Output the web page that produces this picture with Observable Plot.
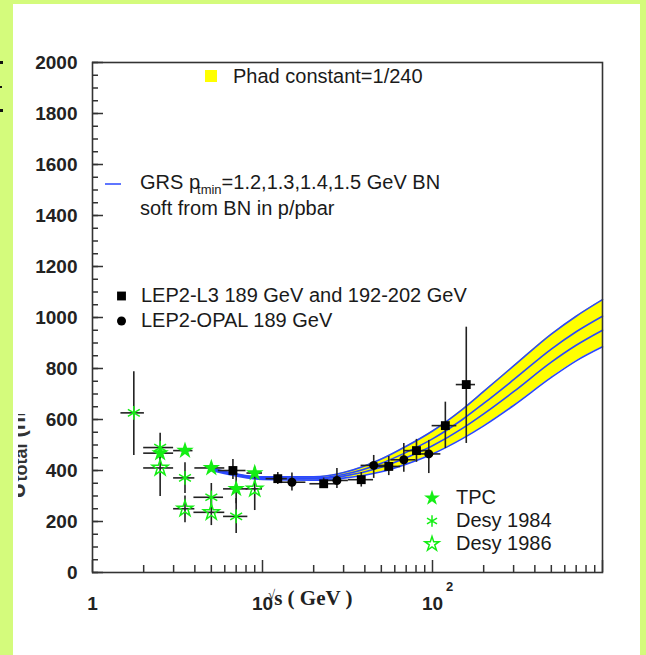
<!DOCTYPE html>
<html><head><meta charset="utf-8">
<script src="https://cdn.jsdelivr.net/npm/d3@7"></script>
<script src="https://cdn.jsdelivr.net/npm/@observablehq/plot@0.6"></script>
<style>
html,body{margin:0;padding:0;background:#d4fb7c;width:646px;height:655px;overflow:hidden;}
#card{position:absolute;left:13px;top:4px;width:627px;height:651px;background:#fff;}
#chart{position:absolute;left:0;top:0;}
.bul{position:absolute;left:0;width:3px;height:3px;background:#111;}
</style></head><body>
<div id="card"></div>
<div class="bul" style="top:61px"></div>
<div class="bul" style="top:86px;height:2px;width:2px"></div>
<div class="bul" style="top:109px"></div>
<div id="chart"></div>
<script>
// ---- model band (GRS, 4 pt_min values) ----
const curveX      = [5, 10, 20, 30, 50, 70, 100, 150, 200, 300, 500, 700, 1000];
const curveTop    = [410, 375, 375, 392, 445, 495, 555, 640, 710, 810, 935, 1005, 1070];
const curve2      = [407, 372, 370, 384, 428, 471, 524, 600, 663, 756, 876, 944, 1005];
const curve3      = [404, 369, 367, 378, 413, 450, 497, 565, 622, 709, 825, 891, 950];
const curveBottom = [400, 365, 362, 370, 395, 425, 465, 525, 575, 655, 765, 830, 885];

// ---- TPC (filled star) ----
const tpcX   = [2.5, 3.5, 5.0, 7.0, 9.0];
const tpcY   = [468, 478, 410, 328, 390];
const tpcYlo = [null, null, null, 270, null];
const tpcYhi = [null, null, null, 390, null];
const tpcXlo = [2.0, 3.0, 4.0, 5.9, 8.1];
const tpcXhi = [3.0, 3.9, 6.0, 8.2, 10];

// ---- Desy 1984 (asterisk) ----
const d84X   = [1.75, 2.5, 3.5, 5.0, 7.0];
const d84Y   = [626, 490, 371, 295, 220];
const d84Ylo = [459, 440, 310, 245, 153];
const d84Yhi = [787, 546, 430, 349, 290];
const d84Xlo = [1.47, 2.0, 3.0, 3.95, 5.9];
const d84Xhi = [2.02, 3.0, 4.0, 5.9, 8.2];

// ---- Desy 1986 (open star) ----
const d86X   = [2.5, 3.5, 5.0, 9.0];
const d86Y   = [410, 250, 236, 328];
const d86Ylo = [298, 195, 184, 243];
const d86Yhi = [470, 300, 290, 413];
const d86Xlo = [2.0, 3.0, 3.95, 8.0];
const d86Xhi = [3.0, 4.0, 6.0, 10];

// ---- LEP2-L3 (square) ----
const l3X   = [6.7, 12.3, 22.9, 38.1, 55.3, 80.5, 119, 158];
const l3Y   = [400, 368, 348, 364, 416, 478, 576, 737];
const l3Ylo = [365, 345, 330, 335, 380, 432, 486, 506];
const l3Yhi = [443, 392, 370, 392, 455, 522, 668, 962];
const l3Xlo = [5.5, 10.5, 19, 32, 47, 68, 99.5, 138];
const l3Xhi = [8, 14, 27, 45, 65, 95, 139, 179];

// ---- LEP2-OPAL (circle) ----
const opX   = [14.9, 27.4, 45.1, 67.8, 95.1];
const opY   = [354, 361, 420, 442, 465];
const opYlo = [320, 329, 369, 393, 388];
const opYhi = [390, 408, 459, 506, 518];
const opXlo = [12.5, 23, 38, 57, 80];
const opXhi = [18, 32, 53, 80, 112];

// ---- ticks ----
const yMajor = [0, 200, 400, 600, 800, 1000, 1200, 1400, 1600, 1800, 2000];
const yMinor = d3.range(0, 2001, 50);
const xMajor = [1, 10, 100, 1000];
const xLabeled = [1, 10, 100];
const xMinor = [2,3,4,5,6,7,8,9,20,30,40,50,60,70,80,90,200,300,400,500,600,700,800,900];

function pts(xs, ys, ylo, yhi, xlo, xhi) {
  return xs.map((x, i) => ({x, y: ys[i], ylo: ylo[i], yhi: yhi[i], xlo: xlo[i], xhi: xhi[i]}));
}
const tpc = pts(tpcX, tpcY, tpcYlo, tpcYhi, tpcXlo, tpcXhi);
const d84 = pts(d84X, d84Y, d84Ylo, d84Yhi, d84Xlo, d84Xhi);
const d86 = pts(d86X, d86Y, d86Ylo, d86Yhi, d86Xlo, d86Xhi);
const l3  = pts(l3X, l3Y, l3Ylo, l3Yhi, l3Xlo, l3Xhi);
const opal = pts(opX, opY, opYlo, opYhi, opXlo, opXhi);
const allPts = [...tpc, ...d84, ...d86, ...l3, ...opal];

const band = curveX.map((x, i) => ({x, lo: curveBottom[i], hi: curveTop[i]}));
const lines = [curveTop, curve2, curve3, curveBottom].flatMap((c, k) => curveX.map((x, i) => ({x, y: c[i], k})));

const GREEN = "#14ee14";
const BLUE = "#2a48ff";
const FONT = "'Liberation Sans', Arial, sans-serif";

const chart = Plot.plot({
  width: 646, height: 655,
  marginLeft: 92, marginRight: 44, marginTop: 62, marginBottom: 83,
  style: {background: "transparent", fontFamily: FONT, overflow: "visible"},
  x: {type: "log", domain: [1, 1000]},
  y: {domain: [0, 2000]},
  marks: [
    Plot.areaY(band, {x: "x", y1: "lo", y2: "hi", fill: "#ffff00", curve: "monotone-x"}),
    Plot.line(lines, {x: "x", y: "y", z: "k", stroke: BLUE, strokeWidth: 1.6, curve: "monotone-x"}),
    Plot.ruleX(allPts, {x: "x", y1: "ylo", y2: "yhi", stroke: "#222", strokeWidth: 1.6}),
    Plot.ruleY(allPts, {y: "y", x1: "xlo", x2: "xhi", stroke: "#222", strokeWidth: 1.6}),
    Plot.dot(l3, {x: "x", y: "y", symbol: "square", r: 5, fill: "#000"}),
    Plot.dot(opal, {x: "x", y: "y", symbol: "circle", r: 4.5, fill: "#000"}),
    Plot.dot(d86, {x: "x", y: "y", symbol: "star", r: 5, stroke: GREEN, strokeWidth: 1.5, fill: "none"}),
    Plot.dot(d84, {x: "x", y: "y", symbol: "asterisk", r: 6.5, stroke: GREEN, strokeWidth: 1.5}),
    Plot.dot(tpc, {x: "x", y: "y", symbol: "star", r: 5.5, fill: GREEN}),
    Plot.frame({stroke: "#333", strokeWidth: 1.6}),
    Plot.axisY(yMajor, {tickSize: 0, tickPadding: 15, tickFormat: d => String(d), fontSize: 19, fontWeight: "bold", fill: "#222", label: null}),
    Plot.axisY(yMajor, {tickSize: -11, tickFormat: () => "", label: null, stroke: "#333", strokeWidth: 1.5}),
    Plot.axisY(yMinor, {tickSize: -6, tickFormat: () => "", label: null, stroke: "#333", strokeWidth: 1.5}),
    Plot.axisX(xLabeled, {tickSize: 0, tickPadding: 24, tickFormat: d => d === 1 ? "1" : "10", fontSize: 19, fontWeight: "bold", fill: "#222", label: null}),
    Plot.axisX(xMajor, {tickSize: -12, tickFormat: () => "", label: null, stroke: "#333", strokeWidth: 1.5}),
    Plot.axisX(xMinor, {tickSize: -7, tickFormat: () => "", label: null, stroke: "#333", strokeWidth: 1.5}),
    Plot.text([100], {x: d => d, frameAnchor: "bottom", text: () => "2", dx: 17, dy: 18.5, fontSize: 13, fontWeight: "bold", fill: "#222"})
  ]
});
document.getElementById("chart").append(chart);

// ---- overlay: legends and axis titles ----
const svg = d3.select(chart);
const g = svg.append("g").attr("font-family", FONT).attr("fill", "#1a1a1a").attr("font-size", 20).attr("text-anchor", "start");
const sym = (type, r) => d3.symbol().type(type).size(Math.PI * r * r)();

g.append("rect").attr("x", 205).attr("y", 70).attr("width", 12).attr("height", 12).attr("fill", "#ffff00");
g.append("text").attr("x", 233).attr("y", 83).text("Phad constant=1/240");

g.append("line").attr("x1", 105).attr("x2", 121).attr("y1", 184).attr("y2", 184).attr("stroke", BLUE).attr("stroke-width", 1.5);
const grs = g.append("text").attr("x", 140).attr("y", 189);
grs.append("tspan").text("GRS p");
grs.append("tspan").attr("font-size", 13).attr("dy", 5).attr("dx", -3).text("tmin");
grs.append("tspan").attr("dy", -5).text("=1.2,1.3,1.4,1.5 GeV BN");
g.append("text").attr("x", 140).attr("y", 215).text("soft from BN in p/pbar");

g.append("path").attr("d", sym(d3.symbolSquare, 5)).attr("transform", "translate(121.5,296)").attr("fill", "#000");
g.append("text").attr("x", 141).attr("y", 302).text("LEP2-L3 189 GeV and 192-202 GeV");
g.append("path").attr("d", sym(d3.symbolCircle, 4.5)).attr("transform", "translate(121.5,321)").attr("fill", "#000");
g.append("text").attr("x", 141).attr("y", 327).text("LEP2-OPAL 189 GeV");

g.append("path").attr("d", sym(d3.symbolStar, 5)).attr("transform", "translate(432,498)").attr("fill", GREEN);
g.append("text").attr("x", 456).attr("y", 504).text("TPC");
g.append("path").attr("d", sym(d3.symbolAsterisk, 5.5)).attr("transform", "translate(432,521)").attr("fill", "none").attr("stroke", GREEN).attr("stroke-width", 1.5);
g.append("text").attr("x", 456).attr("y", 527).text("Desy 1984");
g.append("path").attr("d", sym(d3.symbolStar, 4.5)).attr("transform", "translate(432,544)").attr("fill", "none").attr("stroke", GREEN).attr("stroke-width", 1.5);
g.append("text").attr("x", 456).attr("y", 550).text("Desy 1986");

// x title
const xt = g.append("text").attr("x", 268).attr("y", 605).attr("font-family", "'Liberation Serif', 'Times New Roman', serif").attr("font-weight", "bold").attr("font-size", 21).attr("fill", "#222");
xt.append("tspan").attr("font-size", 13).attr("font-weight", "normal").attr("dy", -6).text("√");
xt.append("tspan").attr("dy", 6).attr("dx", -1).text("s ( GeV )");

// y title (partly hidden)
const defs = svg.append("defs");
defs.append("clipPath").attr("id", "ytclip").append("rect").attr("x", 18).attr("y", 414).attr("width", 14).attr("height", 90);
const yt = g.append("g").attr("clip-path", "url(#ytclip)")
  .append("text").attr("transform", "translate(25,498) rotate(-90)").attr("fill", "#333").attr("font-weight", "bold");
yt.append("tspan").attr("font-size", 24).text("σ");
yt.append("tspan").attr("font-size", 18).attr("dy", 2).text("total");
yt.append("tspan").attr("font-size", 22).attr("dy", -2).text(" (nb)");
</script>
</body></html>
